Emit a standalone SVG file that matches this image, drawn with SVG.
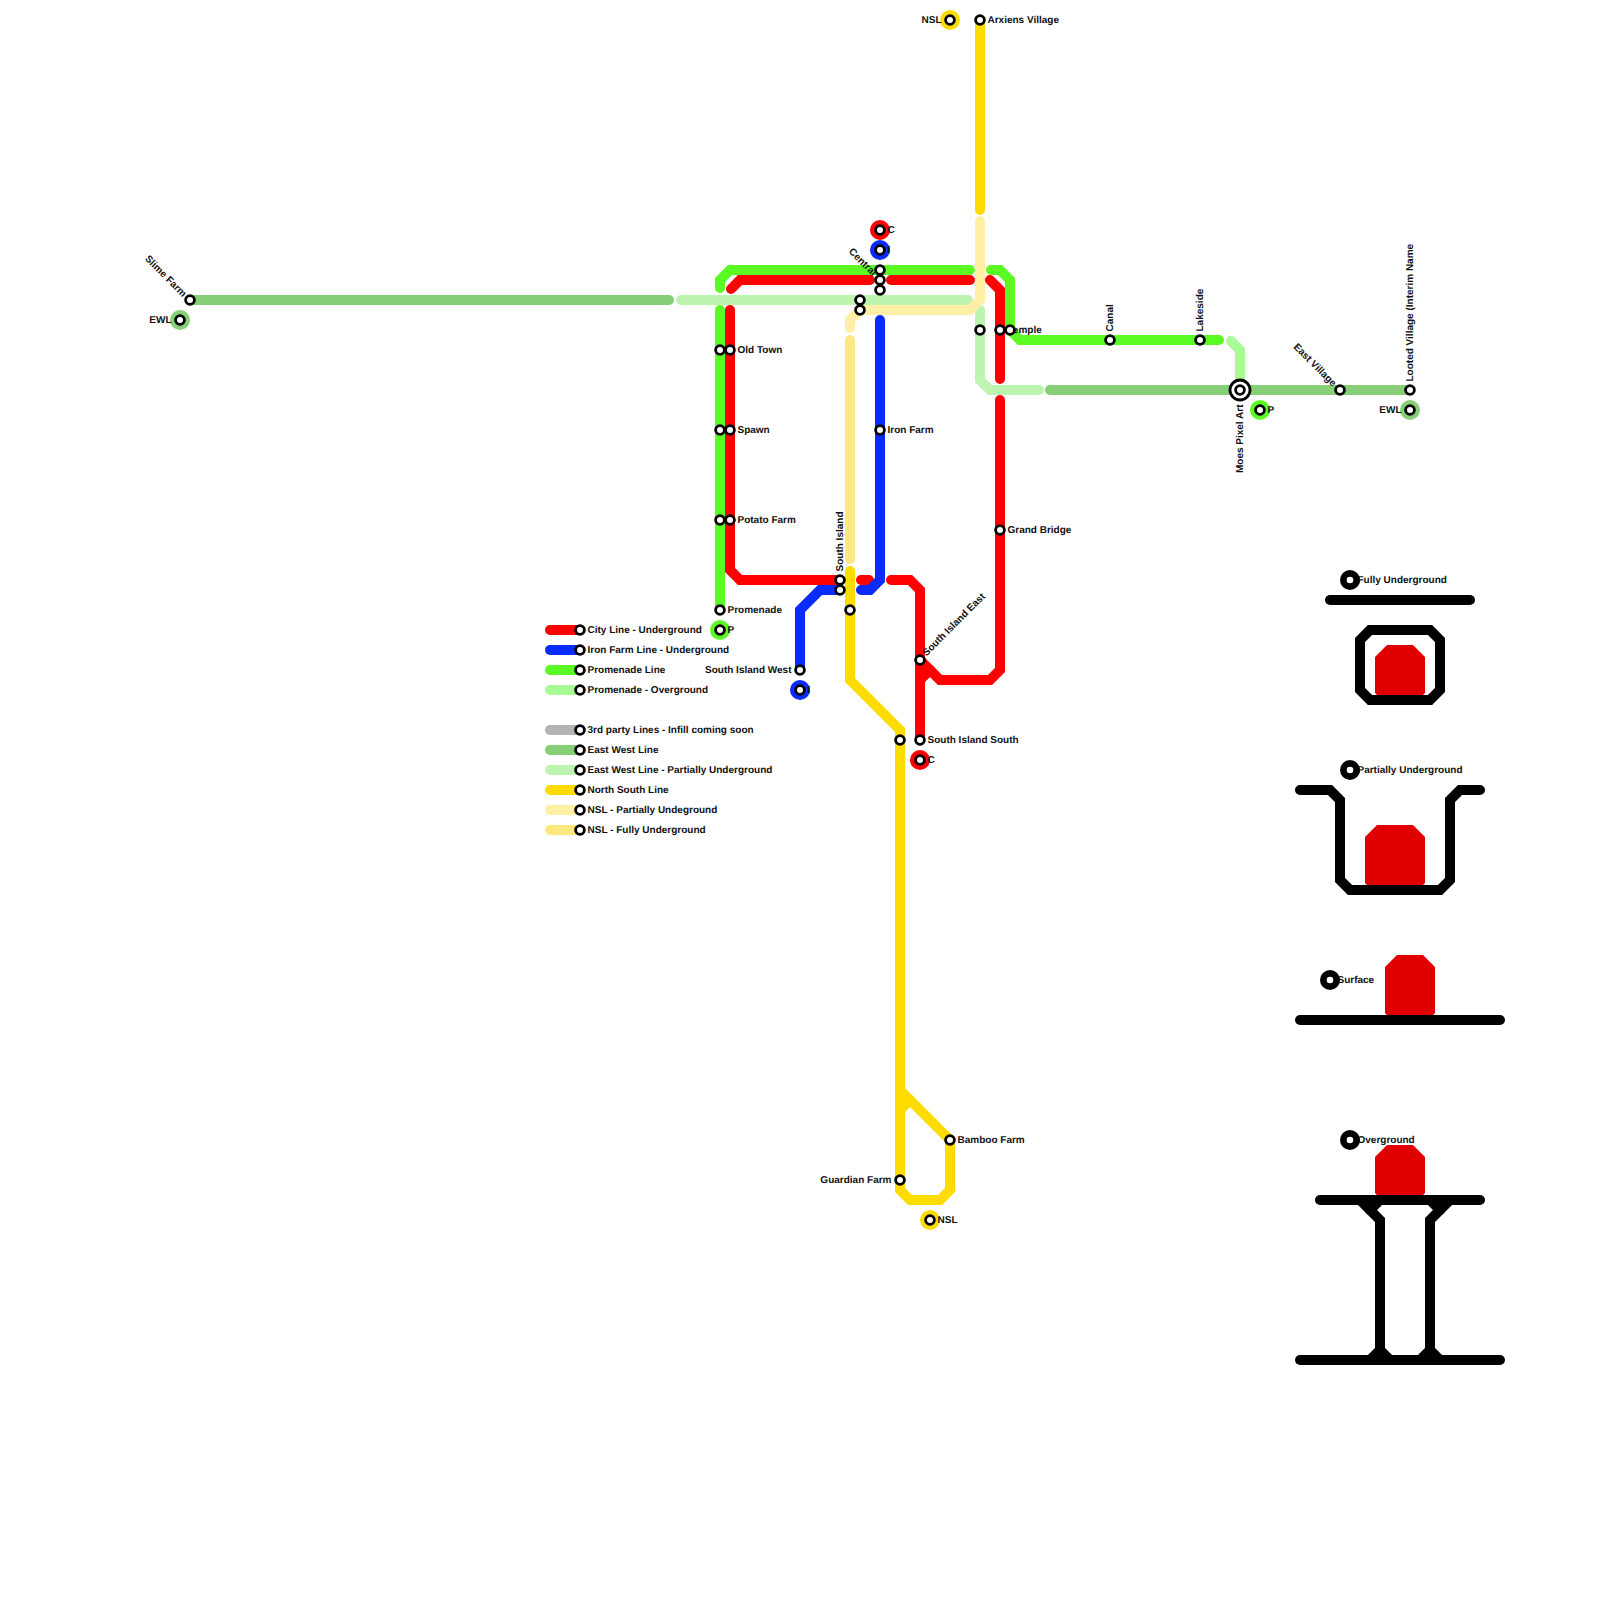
<svg xmlns="http://www.w3.org/2000/svg" width="1600" height="1600" viewBox="0 0 1600 1600">
<style>
.l{fill:none;stroke-width:10;stroke-linecap:round;stroke-linejoin:miter;stroke-miterlimit:10}
.r{stroke:#ff0000}.b{stroke:#0a2bff}.g{stroke:#5cfa24}.go{stroke:#a9fc95}.gy{stroke:#b3b3b3}.e{stroke:#87cf76}.ep{stroke:#bdf5b0}.y{stroke:#ffdc00}.yp{stroke:#fff0a6}.yf{stroke:#ffe880}.k{stroke:#000}
.s{fill:#fff;stroke:#000;stroke-width:2.8}
.fr{fill:#ff0000}.fb{fill:#0a2bff}.fg{fill:#5cfa24}.fe{fill:#87cf76}.fy{fill:#ffdc00}
.t{font-family:"Liberation Sans",Arial,sans-serif;font-size:10px;font-weight:bold;fill:#111;text-rendering:geometricPrecision;translate:-.5px -.5px}
.tr{fill:#e00000}
</style>
<defs>
<circle id="st" class="s" r="4.4"/>
<g id="big"><circle r="10" fill="#000"/><circle r="3.3" fill="#fff"/></g>
</defs>
<g id="connectors">
<path class="l e" d="M190 300H669"/>
<path class="l e" d="M1050 390H1410"/>
<path class="l ep" d="M681 300H968"/>
<path class="l ep" d="M980 310V380L990 390H1039"/>
<path class="l g" d="M720 288V280L730 270H970"/>
<path class="l g" d="M720 310V610"/>
<path class="l g" d="M991 270H1000L1010 280V330L1020 340H1219"/>
<path class="l go" d="M1231 341L1240 350V385"/>
<path class="l r" d="M731 289L740 280H870"/>
<path class="l r" d="M891 280H970"/>
<path class="l r" d="M730 310V570L740 580H840"/>
<path class="l r" d="M861 580H869"/>
<path class="l r" d="M990 280L1000 290V379"/>
<path class="l r" d="M891 580H910L920 590V740"/>
<path class="l r" d="M920 660L940 680H990L1000 670V400"/>
<path class="l r" d="M920 680L930 670"/>
<path class="l b" d="M880 320V580L870 590H861"/>
<path class="l b" d="M840 590H820L800 610V670"/>
<path class="l yf" d="M850 340V559"/>
<path class="l yp" d="M980 221V300L970 310H860L850 320V328"/>
<path class="l y" d="M980 20V210"/>
<path class="l y" d="M850 571V680L900 730V1180L900 1190L910 1200H940L950 1190V1140L900 1090"/>
<path class="l y" d="M900 1110L910 1100"/>
<path class="l r" d="M550 630H580"/>
<path class="l b" d="M550 650H580"/>
<path class="l g" d="M550 670H580"/>
<path class="l go" d="M550 690H580"/>
<path class="l gy" d="M550 730H580"/>
<path class="l e" d="M550 750H580"/>
<path class="l ep" d="M550 770H580"/>
<path class="l y" d="M550 790H580"/>
<path class="l yp" d="M550 810H580"/>
<path class="l yf" d="M550 830H580"/>
</g>
<g id="cross-sections">
<polygon class="tr" points="1387,645 1413,645 1425,657 1425,693 1423,695 1377,695 1375,693 1375,657"/>
<path class="l k" d="M1330 600H1470"/>
<path class="l k" d="M1370 630H1430L1440 640V690L1430 700H1370L1360 690V640Z"/>
<polygon class="tr" points="1377,825 1413,825 1425,837 1425,883 1423,885 1367,885 1365,883 1365,837"/>
<path class="l k" d="M1300 790H1330L1340 800V880L1350 890H1440L1450 880V800L1460 790H1480"/>
<polygon class="tr" points="1397,955 1423,955 1435,967 1435,1013 1433,1015 1387,1015 1385,1013 1385,967"/>
<path class="l k" d="M1300 1020H1500"/>
<polygon class="tr" points="1387,1145 1413,1145 1425,1157 1425,1193 1423,1195 1377,1195 1375,1193 1375,1157"/>
<path class="l k" d="M1320 1200H1480"/>
<path class="l k" d="M1360 1200L1380 1220V1360"/>
<path class="l k" d="M1370 1210L1380 1200"/>
<path class="l k" d="M1450 1200L1430 1220V1360"/>
<path class="l k" d="M1440 1210L1430 1200"/>
<path class="l k" d="M1370 1360L1380 1350L1390 1360"/>
<path class="l k" d="M1420 1360L1430 1350L1440 1360"/>
<path class="l k" d="M1300 1360H1500"/>
</g>
<g id="node-slime-farm"><text class="t" text-anchor="end" y="3.5" transform="translate(185.5 295.5) rotate(45)">Slime Farm</text><use href="#st" x="190" y="300"/></g>
<g id="node-ewl-west"><circle class="fe" cx="180" cy="320" r="10"/><text class="t" x="172" y="323" text-anchor="end">EWL</text><use href="#st" x="180" y="320"/></g>
<g id="node-central-c"><circle class="fr" cx="880" cy="230" r="10"/><text class="t" x="888" y="233">C</text><use href="#st" x="880" y="230"/></g>
<g id="node-central-i"><circle class="fb" cx="880" cy="250" r="10"/><text class="t" x="888" y="253">I</text><use href="#st" x="880" y="250"/></g>
<g id="node-central-1"><use href="#st" x="880" y="270"/></g>
<g id="node-central"><text class="t" text-anchor="end" y="3.5" transform="translate(875.5 274.5) rotate(45)">Central</text><use href="#st" x="880" y="280"/></g>
<g id="node-central-3"><use href="#st" x="880" y="290"/></g>
<g id="node-central-4"><use href="#st" x="860" y="300"/></g>
<g id="node-central-5"><use href="#st" x="860" y="310"/></g>
<g id="node-old-town-p"><use href="#st" x="720" y="350"/></g>
<g id="node-old-town"><text class="t" x="738" y="353">Old Town</text><use href="#st" x="730" y="350"/></g>
<g id="node-spawn-p"><use href="#st" x="720" y="430"/></g>
<g id="node-spawn"><text class="t" x="738" y="433">Spawn</text><use href="#st" x="730" y="430"/></g>
<g id="node-potato-p"><use href="#st" x="720" y="520"/></g>
<g id="node-potato"><text class="t" x="738" y="523">Potato Farm</text><use href="#st" x="730" y="520"/></g>
<g id="node-promenade"><text class="t" x="728" y="613">Promenade</text><use href="#st" x="720" y="610"/></g>
<g id="node-p-west"><circle class="fg" cx="720" cy="630" r="10"/><text class="t" x="728" y="633">P</text><use href="#st" x="720" y="630"/></g>
<g id="node-iron-farm"><text class="t" x="888" y="433">Iron Farm</text><use href="#st" x="880" y="430"/></g>
<g id="node-south-island"><text class="t" y="3" transform="translate(840 572) rotate(-90)">South Island</text><use href="#st" x="840" y="580"/></g>
<g id="node-south-island-2"><use href="#st" x="840" y="590"/></g>
<g id="node-south-island-3"><use href="#st" x="850" y="610"/></g>
<g id="node-south-island-west"><text class="t" x="792" y="673" text-anchor="end">South Island West</text><use href="#st" x="800" y="670"/></g>
<g id="node-i-south"><circle class="fb" cx="800" cy="690" r="10"/><text class="t" x="808" y="693">I</text><use href="#st" x="800" y="690"/></g>
<g id="node-south-island-east"><text class="t" y="3.5" transform="translate(924.5 654.5) rotate(-45)">South Island East</text><use href="#st" x="920" y="660"/></g>
<g id="node-south-island-south-y"><use href="#st" x="900" y="740"/></g>
<g id="node-south-island-south"><text class="t" x="928" y="743">South Island South</text><use href="#st" x="920" y="740"/></g>
<g id="node-c-south"><circle class="fr" cx="920" cy="760" r="10"/><text class="t" x="928" y="763">C</text><use href="#st" x="920" y="760"/></g>
<g id="node-temple-e"><use href="#st" x="980" y="330"/></g>
<g id="node-temple"><text class="t" x="1008" y="333">Temple</text><use href="#st" x="1000" y="330"/></g>
<g id="node-temple-p"><use href="#st" x="1010" y="330"/></g>
<g id="node-grand-bridge"><text class="t" x="1008" y="533">Grand Bridge</text><use href="#st" x="1000" y="530"/></g>
<g id="node-nsl-north"><circle class="fy" cx="950" cy="20" r="10"/><text class="t" x="942" y="23" text-anchor="end">NSL</text><use href="#st" x="950" y="20"/></g>
<g id="node-arxiens"><text class="t" x="988" y="23">Arxiens Village</text><use href="#st" x="980" y="20"/></g>
<g id="node-canal"><text class="t" y="3" transform="translate(1110 332) rotate(-90)">Canal</text><use href="#st" x="1110" y="340"/></g>
<g id="node-lakeside"><text class="t" y="3" transform="translate(1200 332) rotate(-90)">Lakeside</text><use href="#st" x="1200" y="340"/></g>
<g id="node-moes"><text class="t" y="3" text-anchor="end" transform="translate(1240 405) rotate(-90)">Moes Pixel Art</text><circle class="s" cx="1240" cy="390" r="10"/><use href="#st" x="1240" y="390"/></g>
<g id="node-p-east"><circle class="fg" cx="1260" cy="410" r="10"/><text class="t" x="1268" y="413">P</text><use href="#st" x="1260" y="410"/></g>
<g id="node-east-village"><text class="t" text-anchor="end" y="3.5" transform="translate(1335.5 385) rotate(45)">East Village</text><use href="#st" x="1340" y="390"/></g>
<g id="node-looted"><text class="t" y="3" transform="translate(1410 382) rotate(-90)">Looted Village (Interim Name</text><use href="#st" x="1410" y="390"/></g>
<g id="node-ewl-east"><circle class="fe" cx="1410" cy="410" r="10"/><text class="t" x="1402" y="413" text-anchor="end">EWL</text><use href="#st" x="1410" y="410"/></g>
<g id="node-bamboo"><text class="t" x="958" y="1143">Bamboo Farm</text><use href="#st" x="950" y="1140"/></g>
<g id="node-guardian"><text class="t" x="892" y="1183" text-anchor="end">Guardian Farm</text><use href="#st" x="900" y="1180"/></g>
<g id="node-nsl-south"><circle class="fy" cx="930" cy="1220" r="10"/><text class="t" x="938" y="1223">NSL</text><use href="#st" x="930" y="1220"/></g>
<g id="legend-city"><text class="t" x="588" y="633">City Line - Underground</text><use href="#st" x="580" y="630"/></g>
<g id="legend-iron"><text class="t" x="588" y="653">Iron Farm Line - Underground</text><use href="#st" x="580" y="650"/></g>
<g id="legend-promenade"><text class="t" x="588" y="673">Promenade Line</text><use href="#st" x="580" y="670"/></g>
<g id="legend-promenade-over"><text class="t" x="588" y="693">Promenade - Overground</text><use href="#st" x="580" y="690"/></g>
<g id="legend-3rd"><text class="t" x="588" y="733">3rd party Lines - Infill coming soon</text><use href="#st" x="580" y="730"/></g>
<g id="legend-ew"><text class="t" x="588" y="753">East West Line</text><use href="#st" x="580" y="750"/></g>
<g id="legend-ew-part"><text class="t" x="588" y="773">East West Line - Partially Underground</text><use href="#st" x="580" y="770"/></g>
<g id="legend-ns"><text class="t" x="588" y="793">North South Line</text><use href="#st" x="580" y="790"/></g>
<g id="legend-nsl-part"><text class="t" x="588" y="813">NSL - Partially Undeground</text><use href="#st" x="580" y="810"/></g>
<g id="legend-nsl-full"><text class="t" x="588" y="833">NSL - Fully Underground</text><use href="#st" x="580" y="830"/></g>
<g id="key-fully"><text class="t" x="1358" y="583">Fully Underground</text><use href="#big" x="1350" y="580"/></g>
<g id="key-partially"><text class="t" x="1358" y="773">Partially Underground</text><use href="#big" x="1350" y="770"/></g>
<g id="key-surface"><text class="t" x="1338" y="983">Surface</text><use href="#big" x="1330" y="980"/></g>
<g id="key-overground"><text class="t" x="1358" y="1143">Overground</text><use href="#big" x="1350" y="1140"/></g>
</svg>
